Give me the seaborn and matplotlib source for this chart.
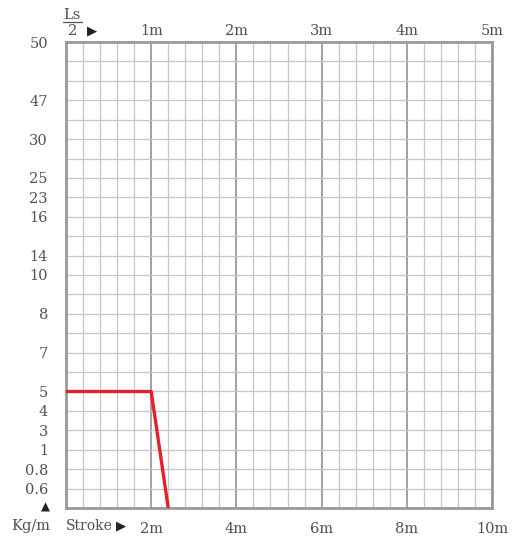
import matplotlib
matplotlib.use("Agg")
import matplotlib.pyplot as plt
from matplotlib.ticker import MultipleLocator
import seaborn as sns
import pandas as pd

# Load levels (kg/m) printed on the left, and the grid row each sits on (0 = top)
load_levels = ["50", "47", "30", "25", "23", "16", "14", "10", "8", "7",
               "5", "4", "3", "1", "0.8", "0.6"]
level_rows = [0, 3, 5, 7, 8, 9, 11, 12, 14, 16, 18, 19, 20, 21, 22, 23]
n_rows = 24

# Stroke axis (bottom) and half-stroke axis Ls/2 (top)
stroke_ticks = [2, 4, 6, 8, 10]
stroke_labels = ["2m", "4m", "6m", "8m", "10m"]
half_ticks = [1, 2, 3, 4, 5]
half_labels = ["1m", "2m", "3m", "4m", "5m"]

# Load curve: stroke (m) against grid row
curve_stroke = [0, 2, 2.4]
curve_row = [18, 18, 24]

sns.set_style("white")
plt.rcParams["font.family"] = ["DejaVu Serif", "DejaVu Sans"]

text_color = "#505050"
grid_minor = "#c6c6c6"
grid_major = "#9a9a9a"
fs = 10.5

fig = plt.figure(figsize=(5.18, 5.37), dpi=100)
ax = fig.add_axes([66 / 518, 1 - 508 / 537, 426 / 518, 466 / 537])

df = pd.DataFrame({"stroke": curve_stroke, "row": curve_row})
sns.lineplot(data=df, x="stroke", y="row", ax=ax, color="#e4202a",
             linewidth=2.4, sort=False, zorder=5)

ax.set_xlim(0, 10)
ax.set_ylim(n_rows, 0)

# grid: every 0.4 m of stroke, darker every 2 m; one line per row
ax.xaxis.set_minor_locator(MultipleLocator(0.4))
ax.set_xticks(stroke_ticks)
ax.set_xticklabels(stroke_labels)
ax.yaxis.set_minor_locator(MultipleLocator(1))
ax.set_yticks(level_rows)
ax.set_yticklabels(load_levels)

ax.grid(which="minor", axis="both", color=grid_minor, linewidth=0.9)
ax.grid(which="major", axis="y", color=grid_minor, linewidth=0.9)
ax.grid(which="major", axis="x", color=grid_major, linewidth=1.3)

ax.tick_params(which="both", length=0, colors=text_color, labelsize=fs)
ax.tick_params(axis="y", pad=13)
ax.tick_params(axis="x", pad=10)
ax.set_xlabel("")
ax.set_ylabel("")

for s in ax.spines.values():
    s.set_color("#9a9a9a")
    s.set_linewidth(2)

top = ax.secondary_xaxis("top", functions=(lambda x: x / 2, lambda x: x * 2))
top.set_xticks(half_ticks)
top.set_xticklabels(half_labels)
top.tick_params(length=0, colors=text_color, labelsize=fs, pad=3)
top.spines["top"].set_visible(False)

# Ls/2 fraction with arrow, top left
fig.text(72 / 518, 1 - 15 / 537, "Ls", ha="center", va="center",
         color=text_color, fontsize=fs)
fig.add_artist(plt.Line2D([63 / 518, 82 / 518], [1 - 22 / 537, 1 - 22 / 537],
                          color=text_color, linewidth=0.9))
fig.text(73 / 518, 1 - 31 / 537, "2", ha="center", va="center",
         color=text_color, fontsize=fs)
fig.text(92 / 518, 1 - 31 / 537, "▶", ha="center", va="center",
         color="#222222", fontsize=9.5, family="DejaVu Sans")

# Bottom-left annotations
fig.text(45 / 518, 1 - 507 / 537, "▲", ha="center", va="center",
         color="#222222", fontsize=8.5, family="DejaVu Sans")
fig.text(31 / 518, 1 - 526 / 537, "Kg/m", ha="center", va="center",
         color=text_color, fontsize=fs)
fig.text(66 / 518, 1 - 526 / 537, "Stroke", ha="left", va="center",
         color=text_color, fontsize=10)
fig.text(121 / 518, 1 - 526 / 537, "▶", ha="center", va="center",
         color="#222222", fontsize=9.5, family="DejaVu Sans")

fig.savefig("out.png", dpi=100)
